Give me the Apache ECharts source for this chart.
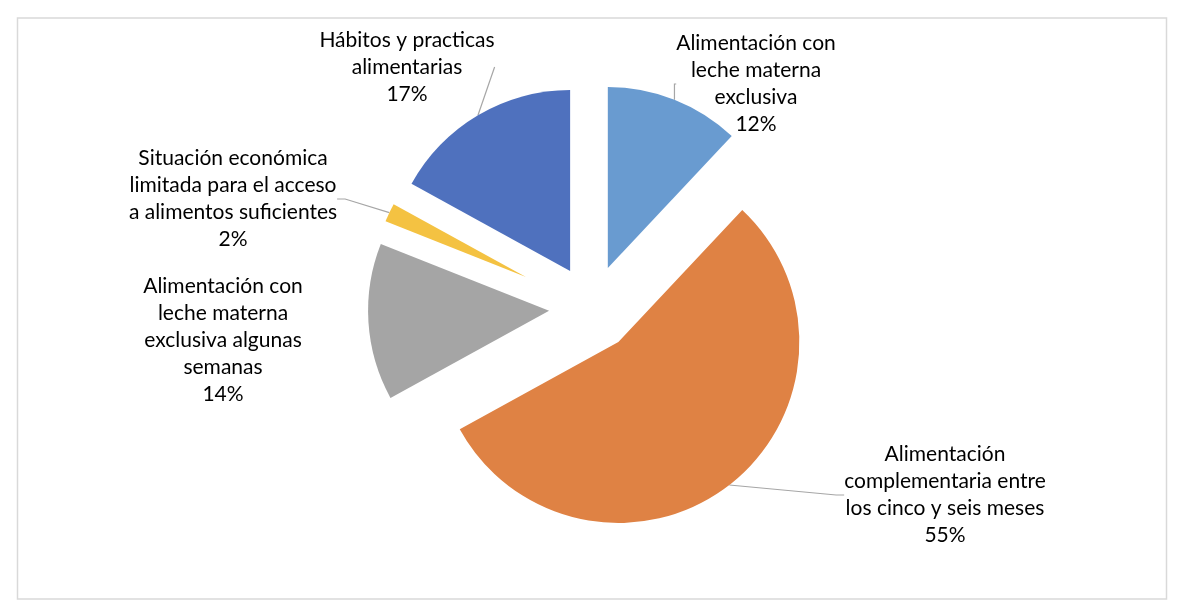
<!DOCTYPE html>
<html>
<head>
<meta charset="utf-8">
<title>Pie</title>
<script src="https://cdn.jsdelivr.net/npm/echarts@6/dist/echarts.min.js"></script>
<style>
  html, body { margin: 0; padding: 0; background: #fff; }
  #chart { width: 1188px; height: 616px; }
</style>
</head>
<body>
<div id="chart"></div>
<script>
// categorias (con saltos de linea como en el original)
const categories = [
  'Alimentación con\nleche materna\nexclusiva',
  'Alimentación\ncomplementaria entre\nlos cinco y seis meses',
  'Alimentación con\nleche materna\nexclusiva algunas\nsemanas',
  'Situación económica\nlimitada para el acceso\na alimentos suficientes',
  'Hábitos y practicas\nalimentarias'
];
const values = [12, 55, 14, 2, 17];
const colors = ['#699BD0', '#DF8244', '#A5A5A5', '#F4C242', '#4F71BE'];

// posicion del bloque de texto de cada etiqueta
const labelSpots = [
  [756, 84], [945, 495], [223, 340], [233, 199], [407, 67]
];
// separacion y radio de cada porcion (la amarilla va mas afuera)
const explode = [43, 43, 43, 73, 43];
const radii = [181, 181, 181, 151, 181];
const showLine = [true, true, false, true, true];

const CX = 592, CY = 308;

const chart = echarts.init(document.getElementById('chart'));

// cada porcion va en su propia serie, desplazada hacia afuera (pastel separado)
const total = values.reduce((a, b) => a + b, 0);
let acc = 0;
const series = values.map((v, i) => {
  const mid = (90 - (acc + v / 2) / total * 360) * Math.PI / 180;
  acc += v;
  return {
    type: 'pie',
    center: [CX + explode[i] * Math.cos(mid), CY - explode[i] * Math.sin(mid)],
    radius: radii[i],
    startAngle: 90,
    clockwise: true,
    silent: true,
    avoidLabelOverlap: false,
    itemStyle: { borderWidth: 0 },
    label: {
      show: true,
      position: 'outside',
      fontFamily: 'Lato',
      fontSize: 21,
      lineHeight: 27,
      color: '#000',
      align: 'center',
      formatter: p => p.name + '\n' + Math.round(p.percent) + '%'
    },
    labelLine: {
      show: showLine[i],
      length: 8,
      length2: 8,
      lineStyle: { color: '#A6A6A6', width: 1.2 }
    },
    labelLayout: p => ({
      x: labelSpots[p.dataIndex][0],
      y: labelSpots[p.dataIndex][1],
      align: 'center',
      verticalAlign: 'middle'
    }),
    data: categories.map((name, j) => j === i ? {
      name: name,
      value: values[j],
      itemStyle: { color: colors[j] }
    } : {
      name: name,
      value: values[j],
      itemStyle: { color: 'rgba(0,0,0,0)' },
      label: { show: false },
      labelLine: { show: false }
    })
  };
});

chart.setOption({
  animation: false,
  graphic: [{
    type: 'rect',
    shape: { x: 17.5, y: 18, width: 1149, height: 581 },
    style: { fill: 'none', stroke: '#D9D9D9', lineWidth: 1.5 },
    silent: true
  }],
  series: series
});
</script>
</body>
</html>
